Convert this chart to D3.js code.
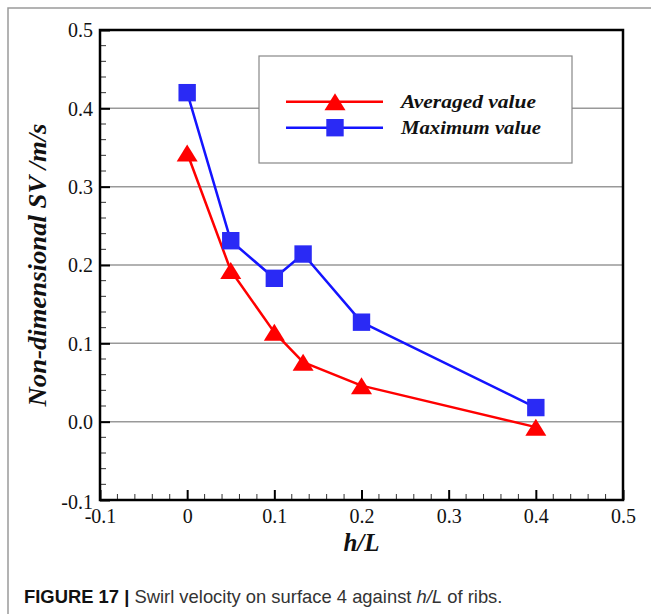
<!DOCTYPE html>
<html>
<head>
<meta charset="utf-8">
<script src="https://cdn.jsdelivr.net/npm/d3@7"></script>
<style>
  html, body { margin: 0; padding: 0; background: #fff; }
  svg { display: block; }
</style>
</head>
<body>
<svg id="chart" width="651" height="614"></svg>
<script>
// Rib height ratio h/L and the swirl velocity measured on surface 4
const hL = [0, 0.05, 0.1, 0.133, 0.2, 0.4];
const averagedSV = [0.343, 0.193, 0.114, 0.076, 0.046, -0.007];
const maximumSV = [0.42, 0.231, 0.183, 0.214, 0.127, 0.018];

const seriesNames = ["Averaged value", "Maximum value"];
const xTickValues = [-0.1, 0, 0.1, 0.2, 0.3, 0.4, 0.5];
const xTickLabels = ["-0.1", "0", "0.1", "0.2", "0.3", "0.4", "0.5"];
const yTickValues = [-0.1, 0, 0.1, 0.2, 0.3, 0.4, 0.5];
const yTickLabels = ["-0.1", "0.0", "0.1", "0.2", "0.3", "0.4", "0.5"];
const gridValues = [0, 0.1, 0.2, 0.3, 0.4];
const minorStep = 0.02;

const svg = d3.select("#chart");
const W = 651, H = 614;
const plot = { left: 100, right: 623, top: 30, bottom: 500 };

const x = d3.scaleLinear().domain([-0.1, 0.5]).range([plot.left, plot.right]);
const y = d3.scaleLinear().domain([-0.1, 0.5]).range([plot.bottom, plot.top]);

const serif = "'Liberation Serif', 'Times New Roman', serif";
const sans = "'Liberation Sans', Arial, sans-serif";

svg.append("rect").attr("width", W).attr("height", H).attr("fill", "#fff");

// page frame (top and left rules)
svg.append("path")
  .attr("d", `M8,${H} L8,8 L${W},8`)
  .attr("fill", "none").attr("stroke", "#9a9a9a").attr("stroke-width", 1.5);

// horizontal grid
svg.append("g").selectAll("line").data(gridValues).join("line")
  .attr("x1", plot.left).attr("x2", plot.right)
  .attr("y1", d => y(d)).attr("y2", d => y(d))
  .attr("stroke", "#999").attr("stroke-width", 1.5);

// minor ticks
const minorX = d3.range(-0.1, 0.5001, minorStep).filter(v => Math.abs(Math.round(v * 10) - v * 10) > 1e-6);
const minorY = minorX;
svg.append("g").selectAll("line").data(minorY).join("line")
  .attr("x1", plot.left).attr("x2", plot.left + 6)
  .attr("y1", d => y(d)).attr("y2", d => y(d))
  .attr("stroke", "#333").attr("stroke-width", 1);
svg.append("g").selectAll("line").data(minorX).join("line")
  .attr("x1", d => x(d)).attr("x2", d => x(d))
  .attr("y1", plot.bottom).attr("y2", plot.bottom - 6)
  .attr("stroke", "#333").attr("stroke-width", 1);

// axes with inward major ticks
const yAxis = d3.axisLeft(y).tickValues(yTickValues)
  .tickFormat((d, i) => yTickLabels[i]).tickSizeInner(-10).tickSizeOuter(0).tickPadding(7);
const xAxis = d3.axisBottom(x).tickValues(xTickValues)
  .tickFormat((d, i) => xTickLabels[i]).tickSizeInner(-10).tickSizeOuter(0).tickPadding(9);

const gy = svg.append("g").attr("transform", `translate(${plot.left},0)`).call(yAxis);
const gx = svg.append("g").attr("transform", `translate(0,${plot.bottom})`).call(xAxis);
[gx, gy].forEach(g => {
  g.select(".domain").remove();
  g.selectAll(".tick line").attr("stroke", "#000").attr("stroke-width", 2);
  g.selectAll(".tick text").attr("font-family", serif).attr("font-size", 20).attr("fill", "#111");
});
gy.selectAll(".tick text").attr("dy", "0.34em");
gy.selectAll(".tick").filter(d => d === -0.1).select("text").attr("dy", "0.42em");
gx.selectAll(".tick text").attr("dy", "0.68em");

// plot frame
svg.append("rect")
  .attr("x", plot.left).attr("y", plot.top)
  .attr("width", plot.right - plot.left).attr("height", plot.bottom - plot.top)
  .attr("fill", "none").attr("stroke", "#000").attr("stroke-width", 2.5);

// legend
const legend = { x0: 259, y0: 56, x1: 572, y1: 163 };
svg.append("rect")
  .attr("x", legend.x0).attr("y", legend.y0)
  .attr("width", legend.x1 - legend.x0).attr("height", legend.y1 - legend.y0)
  .attr("fill", "#fff").attr("stroke", "#888").attr("stroke-width", 1.2);

const colors = ["#ff0000", "#1414ff"];
const markColors = ["#ff0000", "#2a2af5"];

function trianglePath(cx, cy) {
  const p = d3.path();
  p.moveTo(cx, cy - 8.5);
  p.lineTo(cx + 10.5, cy + 8.5);
  p.lineTo(cx - 10.5, cy + 8.5);
  p.closePath();
  return p.toString();
}
function squarePath(cx, cy) {
  const p = d3.path();
  p.rect(cx - 8.7, cy - 8.7, 17.4, 17.4);
  return p.toString();
}
const shapes = [trianglePath, squarePath];

const legendRows = [101.7, 127.7];
const legendTextWidths = [135, 140];
seriesNames.forEach((name, i) => {
  const ly = legendRows[i];
  svg.append("line").attr("x1", 286).attr("x2", 383).attr("y1", ly).attr("y2", ly)
    .attr("stroke", colors[i]).attr("stroke-width", 2.5);
  svg.append("path").attr("d", shapes[i](335, ly)).attr("fill", markColors[i]);
  svg.append("text").attr("x", 401).attr("y", ly + 6)
    .attr("font-family", serif).attr("font-size", 19).attr("font-weight", "bold")
    .attr("font-style", "italic").attr("fill", "#111")
    .attr("textLength", legendTextWidths[i]).attr("lengthAdjust", "spacingAndGlyphs")
    .text(name);
});

// series lines and markers
const series = [averagedSV, maximumSV];
const line = d3.line().x(d => x(d[0])).y(d => y(d[1]));
series.forEach((vals, i) => {
  const pts = hL.map((h, j) => [h, vals[j]]);
  svg.append("path").datum(pts).attr("d", line)
    .attr("fill", "none").attr("stroke", colors[i]).attr("stroke-width", 2.5)
    .attr("stroke-linejoin", "round");
  svg.append("g").selectAll("path").data(pts).join("path")
    .attr("d", d => shapes[i](x(d[0]), y(d[1])))
    .attr("fill", markColors[i]);
});

// axis titles
svg.append("text")
  .attr("transform", `translate(46,265) rotate(-90)`)
  .attr("text-anchor", "middle")
  .attr("font-family", serif).attr("font-size", 25.5).attr("font-weight", "bold")
  .attr("font-style", "italic").attr("fill", "#111")
  .attr("textLength", 283).attr("lengthAdjust", "spacingAndGlyphs")
  .text("Non-dimensional SV /m/s");

svg.append("text")
  .attr("x", x(0.2)).attr("y", 551).attr("text-anchor", "middle")
  .attr("font-family", serif).attr("font-size", 25).attr("font-weight", "bold")
  .attr("font-style", "italic").attr("fill", "#111")
  .text("h/L");

// caption
const cap = svg.append("text").attr("x", 24).attr("y", 603)
  .attr("font-family", sans).attr("font-size", 18.4).attr("fill", "#333");
cap.append("tspan").attr("font-weight", "bold").attr("fill", "#111").text("FIGURE 17 | ");
cap.append("tspan").text("Swirl velocity on surface 4 against ");
cap.append("tspan").attr("font-style", "italic").text("h/L");
cap.append("tspan").text(" of ribs.");
</script>
</body>
</html>
